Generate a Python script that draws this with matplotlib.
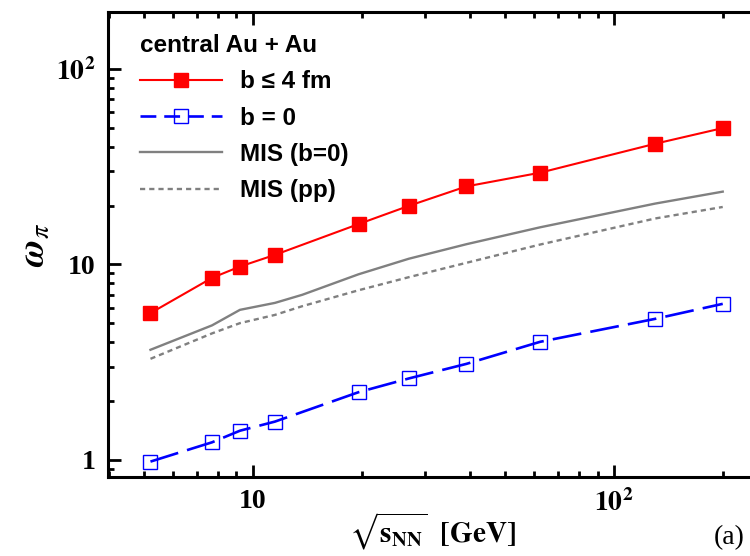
import matplotlib.pyplot as plt
import numpy as np
from matplotlib.ticker import LogLocator, NullFormatter
from matplotlib.lines import Line2D

plt.rcParams['mathtext.fontset'] = 'stix'

# collision energies (GeV) and scaled variance of pions
energy = [5.2, 7.7, 9.2, 11.5, 19.6, 27, 39, 62.4, 130, 200]
omega_b4 = [5.64, 8.54, 9.76, 11.2, 16.1, 19.95, 25.1, 29.5, 41.5, 49.9]
omega_b0 = [0.98, 1.23, 1.41, 1.57, 2.22, 2.61, 3.10, 4.02, 5.27, 6.29]

# model of independent sources
energy_mis = [5.2, 7.7, 9.2, 11.5, 13.7, 19.6, 27, 39, 62.4, 130, 200]
mis_b0 = [3.66, 4.88, 5.86, 6.36, 7.0, 8.91, 10.7, 12.7, 15.5, 20.5, 23.6]
mis_pp = [3.29, 4.44, 5.01, 5.52, 6.12, 7.38, 8.61, 10.2, 12.65, 17.2, 19.7]

fig = plt.figure(figsize=(7.5, 5.56), dpi=100)
ax = fig.add_axes([0.144, 0.1426, 0.8663, 0.8358])

ax.plot(energy, omega_b4, color='#ff0000', lw=1.5, marker='s', ms=10,
        mec='#ff0000', mfc='#ff0000')
ax.plot(energy, omega_b0, color='#0000ff', lw=1.9, ls=(0, (11, 3.5)),
        marker='s', ms=10, mfc='none', mec='#0000ff', mew=1.0)
ax.plot(energy_mis, mis_b0, color='#808080', lw=1.7)
ax.plot(energy_mis, mis_pp, color='#808080', lw=1.7, ls=(0, (2.2, 1.7)))

ax.set_xscale('log')
ax.set_yscale('log')
ax.set_xlim(3.966, 250)
ax.set_ylim(0.82, 196)

serif = {'family': 'Liberation Serif', 'weight': 'bold', 'size': 20}
ax.set_xticks([10, 100])
ax.set_xticklabels(['10', r'$\mathbf{10^{2}}$'], fontdict=serif)
ax.set_yticks([1, 10, 100])
ax.set_yticklabels(['1', '10', r'$\mathbf{10^{2}}$'], fontdict=serif)
ax.xaxis.set_minor_locator(LogLocator(base=10, subs=np.arange(2, 10)))
ax.yaxis.set_minor_locator(LogLocator(base=10, subs=np.arange(2, 10)))
ax.xaxis.set_minor_formatter(NullFormatter())
ax.yaxis.set_minor_formatter(NullFormatter())

ax.tick_params(which='both', direction='in', top=True, right=False, width=2)
ax.tick_params(which='major', length=9)
ax.tick_params(axis='x', which='major', pad=9)
ax.tick_params(axis='y', which='major', pad=9)
ax.tick_params(which='minor', length=4.5)
for s in ['left', 'bottom', 'top']:
    ax.spines[s].set_linewidth(2.2)
ax.spines['right'].set_visible(False)

ax.set_xlabel(r'$\sqrt{\mathbf{s}_{\mathbf{NN}}}\ \ \mathbf{[GeV]}$', fontsize=21, labelpad=-5)
ax.set_ylabel(r'$\boldsymbol{\omega}_{\pi}$', fontsize=27, labelpad=3)

handles = [
    Line2D([], [], color='#ff0000', lw=1.5, marker='s', ms=10),
    Line2D([], [], color='#0000ff', lw=1.9, ls=(0, (6, 3)), marker='s', ms=10,
           mfc='none', mew=1.0),
    Line2D([], [], color='#808080', lw=1.7),
    Line2D([], [], color='#808080', lw=1.7, ls=(0, (2.2, 1.7))),
]
labels = ['b \u2264 4 fm', 'b = 0', 'MIS (b=0)', 'MIS (pp)']
leg = ax.legend(handles, labels, title='central Au + Au', loc='upper left',
                bbox_to_anchor=(0.015, 1.0), frameon=False,
                prop={'family': ['Liberation Sans', 'DejaVu Sans'], 'weight': 'bold', 'size': 17.5},
                title_fontproperties={'family': 'Liberation Sans', 'weight': 'bold', 'size': 17.5},
                alignment='left', handlelength=3.4, handletextpad=0.75,
                labelspacing=0.55)

fig.text(0.993, 0.022, '(a)', fontsize=20, family='Liberation Serif', ha='right')

fig.savefig('out.png', dpi=100)
